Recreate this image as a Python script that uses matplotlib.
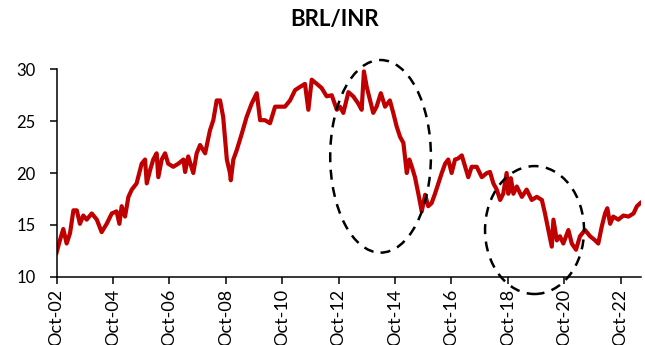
import matplotlib
matplotlib.use("Agg")
import matplotlib.pyplot as plt
from matplotlib.patches import Ellipse

# BRL/INR (decimal years, Oct-02 = 2002.75)
years = [2002.75, 2002.87, 2002.99, 2003.11, 2003.23, 2003.35, 2003.47, 2003.58, 2003.70, 2003.82,
         2004.00, 2004.18, 2004.35, 2004.53, 2004.71, 2004.88, 2004.98, 2005.06, 2005.18, 2005.30,
         2005.42, 2005.59, 2005.77, 2005.89, 2005.95, 2006.07, 2006.18, 2006.30, 2006.36, 2006.48,
         2006.60, 2006.71, 2006.89, 2007.07, 2007.25, 2007.31, 2007.42, 2007.60, 2007.72, 2007.84,
         2008.02, 2008.19, 2008.31, 2008.43, 2008.55, 2008.66, 2008.79, 2008.90, 2008.93, 2009.02,
         2009.14, 2009.32, 2009.49, 2009.67, 2009.85, 2009.97, 2010.14, 2010.32, 2010.50, 2010.68,
         2010.85, 2011.03, 2011.21, 2011.38, 2011.56, 2011.68, 2011.80, 2011.98, 2012.15, 2012.33,
         2012.51, 2012.69, 2012.80, 2012.92, 2013.10, 2013.27, 2013.45, 2013.57, 2013.65, 2013.75,
         2013.87, 2013.98, 2014.10, 2014.25, 2014.40, 2014.57, 2014.69, 2014.81, 2014.93, 2015.05,
         2015.17, 2015.26, 2015.35, 2015.46, 2015.58, 2015.70, 2015.82, 2015.93, 2016.05, 2016.17,
         2016.29, 2016.41, 2016.53, 2016.64, 2016.76, 2016.88, 2016.99, 2017.12, 2017.24, 2017.35,
         2017.47, 2017.65, 2017.83, 2018.01, 2018.12, 2018.24, 2018.36, 2018.48, 2018.59, 2018.71,
         2018.77, 2018.86, 2018.95, 2019.07, 2019.25, 2019.42, 2019.60, 2019.78, 2019.96, 2020.07,
         2020.19, 2020.31, 2020.37, 2020.49, 2020.60, 2020.72, 2020.90, 2021.02, 2021.17, 2021.31,
         2021.49, 2021.67, 2021.85, 2021.96, 2022.08, 2022.20, 2022.28, 2022.38, 2022.49, 2022.67,
         2022.85, 2023.03, 2023.21, 2023.33, 2023.45]
brl_inr = [12.3, 13.5, 14.6, 13.2, 14.2, 16.4, 16.4, 15.1, 15.9, 15.5,
           16.1, 15.5, 14.3, 15.1, 16.1, 16.3, 15.1, 16.8, 15.8, 17.7,
           18.4, 19.0, 20.9, 21.3, 19.0, 20.3, 21.3, 21.9, 19.6, 21.3,
           21.9, 20.9, 20.6, 20.9, 21.3, 20.1, 21.6, 20.0, 21.9, 22.7,
           21.9, 24.1, 25.1, 27.0, 27.0, 25.4, 21.3, 20.0, 19.3, 21.3,
           22.2, 23.8, 25.4, 26.7, 27.7, 25.1, 25.1, 24.8, 26.4, 26.4,
           26.4, 27.0, 28.0, 28.3, 28.6, 26.1, 29.0, 28.6, 28.2, 27.4,
           27.5, 26.1, 26.4, 25.8, 27.8, 27.4, 26.7, 26.1, 29.8, 28.3,
           27.0, 25.8, 26.4, 27.7, 26.4, 27.0, 25.8, 24.5, 23.5, 22.9,
           20.0, 21.3, 20.6, 19.6, 18.0, 16.3, 17.9, 16.8, 17.1, 18.0,
           19.0, 20.0, 20.9, 21.3, 20.0, 21.3, 21.4, 21.7, 20.6, 19.6,
           20.6, 20.6, 19.6, 20.0, 20.1, 19.0, 18.4, 17.4, 18.0, 20.0,
           18.0, 19.5, 18.0, 18.7, 17.7, 18.4, 17.4, 17.7, 17.4, 16.1,
           14.5, 12.9, 15.5, 13.5, 13.9, 13.2, 14.5, 13.2, 12.6, 13.9,
           14.5, 13.9, 13.5, 13.2, 14.8, 16.1, 16.6, 15.1, 15.8, 15.5,
           15.9, 15.8, 16.1, 16.8, 17.1]

tick_labels = ["Oct-02", "Oct-04", "Oct-06", "Oct-08", "Oct-10", "Oct-12",
               "Oct-14", "Oct-16", "Oct-18", "Oct-20", "Oct-22"]
tick_pos = [2002.75 + 2 * i for i in range(len(tick_labels))]

plt.rcParams["font.family"] = ["Lato", "DejaVu Sans"]

fig = plt.figure(figsize=(6.45, 3.45), dpi=100)
ax = fig.add_axes([0.0876, 0.198, 0.906, 0.601])

ax.plot(years, brl_inr, color="#C00000", lw=3.0, solid_joinstyle="round")

ax.set_xlim(2002.75, 2023.47)
ax.set_ylim(10, 30)
ax.set_yticks([10, 15, 20, 25, 30])
ax.set_xticks(tick_pos)
ax.set_xticklabels(tick_labels, rotation=90)
ax.tick_params(length=5, width=1.1, colors="black")
ax.tick_params(axis="y", pad=10, labelsize=12)
ax.tick_params(axis="x", pad=4, labelsize=13)
for s in ["top", "right"]:
    ax.spines[s].set_visible(False)
for s in ["left", "bottom"]:
    ax.spines[s].set_linewidth(1.1)

# dashed circles highlighting the two sell-offs
for cx, cy, w, h in [(2014.24, 21.61, 3.57, 18.58), (2019.70, 14.50, 3.51, 12.34)]:
    ax.add_patch(Ellipse((cx, cy), w, h, fill=False, ec="black", lw=1.8,
                         ls=(0, (4, 3)), clip_on=False, zorder=5))

fig.text(0.518, 0.943, "BRL/INR", ha="center", va="center",
         fontsize=16, fontweight="bold")

fig.savefig("out.png", dpi=100)
